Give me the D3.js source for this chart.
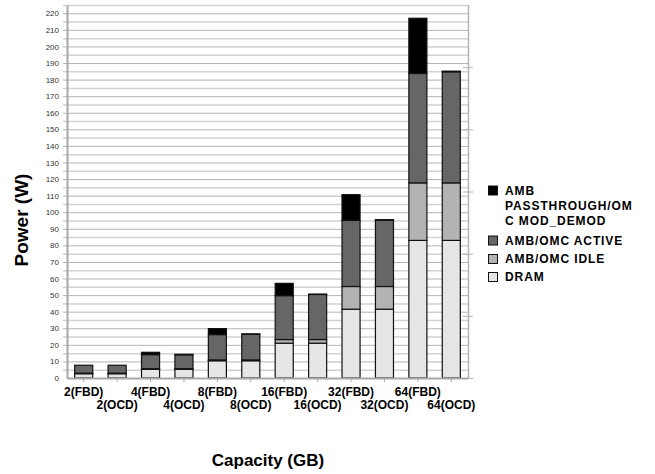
<!DOCTYPE html>
<html><head><meta charset="utf-8">
<script src="https://cdn.jsdelivr.net/npm/d3@7/dist/d3.min.js"></script>
<style>
body{margin:0;background:#fff;}
svg{display:block;font-family:"Liberation Sans",Arial,sans-serif;}
</style></head>
<body>
<script>
const categories = ["2(FBD)","2(OCD)","4(FBD)","4(OCD)","8(FBD)","8(OCD)","16(FBD)","16(OCD)","32(FBD)","32(OCD)","64(FBD)","64(OCD)"];
const dram        = [2.6, 2.6, 5.2, 5.2, 10.4, 10.4, 21.0, 21.0, 41.5, 41.5, 83.0, 83.0];
const ambIdle     = [0.3, 0.3, 0.4, 0.4, 0.5, 0.5, 2.2, 2.2, 13.7, 13.7, 34.7, 34.7];
const ambActive   = [4.8, 4.8, 8.5, 8.4, 15.3, 15.5, 26.5, 27.2, 39.9, 40.0, 66.0, 67.0];
const ambPass     = [0, 0, 1.4, 0.3, 3.6, 0.2, 7.4, 0.2, 15.5, 0.3, 33.3, 0.4];
const seriesNames = ["DRAM","AMB/OMC IDLE","AMB/OMC ACTIVE","AMB PASSTHROUGH/OMC MOD_DEMOD"];
const legendLines = [["AMB","PASSTHROUGH/OM","C MOD_DEMOD"],["AMB/OMC ACTIVE"],["AMB/OMC IDLE"],["DRAM"]];
const yTickLabels = [0,10,20,30,40,50,60,70,80,90,100,110,120,130,140,150,160,170,180,190,200,210,220];
const colors = ["#e6e6e6","#b3b3b3","#666666","#000000"];

(function(){
const W = 655, H = 474;
const svg = d3.select("body").append("svg").attr("width", W).attr("height", H);

const pL = 67, pR = 468, pT = 5, pB = 378;
const y = d3.scaleLinear().domain([0,225]).range([pB, pT]);
const x = d3.scaleBand().domain(categories).range([pL, pR]).paddingInner(0.46).paddingOuter(0.23);

// grid lines
const gridVals = d3.range(0, 226, 5);
svg.append("g").selectAll("line").data(gridVals.filter(v => v > 0)).join("line")
  .attr("x1", pL - 4).attr("x2", pR)
  .attr("y1", d => y(d) + 0.5).attr("y2", d => y(d) + 0.5)
  .attr("stroke", d => d % 10 === 0 ? "#b4b4b4" : "#d2d2d2")
  .attr("stroke-width", d => d % 10 === 0 ? 1 : 1.5);

// right frame + secondary ticks
svg.append("line").attr("x1", pR + 0.5).attr("x2", pR + 0.5).attr("y1", pT).attr("y2", pB)
  .attr("stroke", "#b4b4b4").attr("stroke-width", 1.5);
const y2 = d3.scaleLinear().domain([0, 6]).range([pB, y(225)]);
svg.append("g").selectAll("line").data(d3.range(0, 6)).join("line")
  .attr("x1", pR - 5).attr("x2", pR + 5)
  .attr("y1", d => y2(d) + 0.5).attr("y2", d => y2(d) + 0.5)
  .attr("stroke", "#b4b4b4").attr("stroke-width", 1);

// left axis
const yAxis = d3.axisLeft(y).tickValues(yTickLabels).tickSize(0).tickPadding(8);
const ga = svg.append("g").attr("transform", `translate(${pL},0)`).call(yAxis);
ga.select(".domain").attr("stroke", "#a8a8a8").attr("stroke-width", 2);
ga.selectAll("text").attr("font-size", 8).attr("fill", "#333").attr("font-family", "\"Liberation Sans\",Arial,sans-serif");

// stacked bars
const rows = categories.map((c, i) => ({cat: c, s0: dram[i], s1: ambIdle[i], s2: ambActive[i], s3: ambPass[i]}));
const stack = d3.stack().keys(["s0","s1","s2","s3"]);
const layers = stack(rows);
layers.forEach((layer, li) => {
  svg.append("g").selectAll("rect").data(layer).join("rect")
    .attr("x", d => x(d.data.cat))
    .attr("width", x.bandwidth())
    .attr("y", d => y(d[1]))
    .attr("height", d => Math.max(0, y(d[0]) - y(d[1])))
    .attr("fill", colors[li])
    .attr("stroke", "#111").attr("stroke-width", 1.2);
});

// bottom axis
const xAxis = d3.axisBottom(x).tickSize(4).tickFormat("");
const gx = svg.append("g").attr("transform", `translate(0,${pB})`).call(xAxis);
gx.select(".domain").attr("stroke", "#a8a8a8").attr("stroke-width", 2).attr("d", `M${pL},0.5H${pR}`);
gx.selectAll(".tick line").attr("stroke", "#a8a8a8");
svg.append("g").selectAll("text").data(categories).join("text")
  .attr("x", d => x(d) + x.bandwidth() / 2)
  .attr("y", (d, i) => i % 2 === 0 ? 396 : 409)
  .attr("text-anchor", "middle").attr("font-size", 12).attr("font-weight", "bold").attr("fill", "#000")
  .text(d => d);

// axis titles
svg.append("text").attr("transform", "translate(28,220) rotate(-90)")
  .attr("text-anchor", "middle").attr("font-size", 19).attr("font-weight", "bold").text("Power (W)");
svg.append("text").attr("x", 268).attr("y", 466)
  .attr("text-anchor", "middle").attr("font-size", 17).attr("font-weight", "bold").text("Capacity (GB)");

// legend
const legOrder = [3, 2, 1, 0];
const legY = [190.5, 240.5, 259, 277];
const lg = svg.append("g");
legOrder.forEach((si, k) => {
  lg.append("rect").attr("x", 488.5).attr("y", legY[k] - 4.5).attr("width", 9).attr("height", 9)
    .attr("fill", colors[si]).attr("stroke", "#111").attr("stroke-width", 1);
  legendLines[k].forEach((ln, j) => {
    lg.append("text").attr("x", 505).attr("y", legY[k] + 4.3 + j * 15.2)
      .attr("font-size", 12).attr("font-weight", "bold").attr("letter-spacing", 0.9).text(ln);
  });
});
})();
</script>
</body></html>
